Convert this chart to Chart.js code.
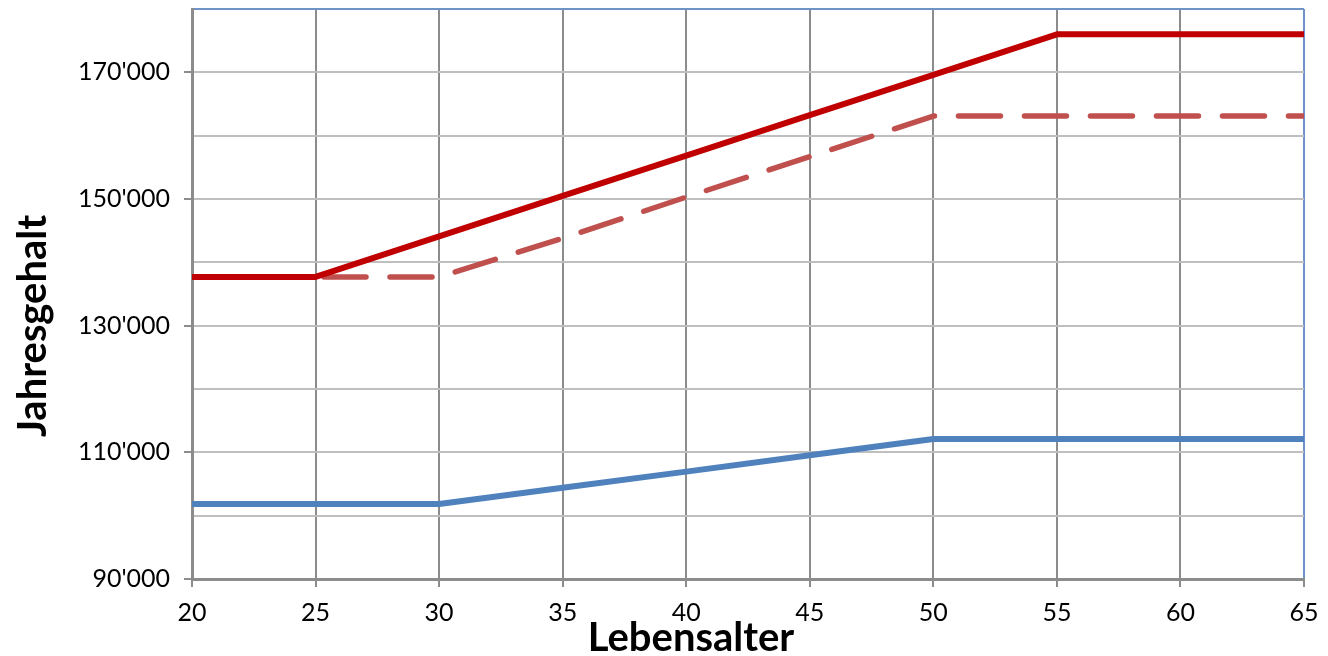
<!DOCTYPE html>
<html>
<head>
<meta charset="utf-8">
<script src="https://cdn.jsdelivr.net/npm/chart.js@4.4.1/dist/chart.umd.min.js"></script>
<style>
  html, body { margin: 0; padding: 0; background: #fff; }
  #wrap { width: 1328px; height: 656px; }
</style>
</head>
<body>
<div id="wrap"><canvas id="chart" width="1328" height="656"></canvas></div>
<script>
// Lebensalter (x) und Jahresgehalt (y)
const ages = [20, 25, 30, 35, 40, 45, 50, 55, 60, 65];
const redSolid = [137700, 137700, 144100, 150500, 156850, 163250, 169600, 176000, 176000, 176000];
const redDashed = [137700, 137700, 137700, 143800, 150300, 156700, 163100, 163100, 163100, 163100];
const blueLine = [101850, 101850, 101850, 104400, 106950, 109550, 112100, 112100, 112100, 112100];
const labeledTicks = [90000, 110000, 130000, 150000, 170000];

const xTitle = 'Lebensalter';
const yTitle = 'Jahresgehalt';

function toPoints(values) {
    return ages.map((a, i) => ({ x: a, y: values[i] }));
}

function fmt(v) {
    return String(v).replace(/\B(?=(\d{3})+(?!\d))/g, "'");
}

// Achsentitel frei platziert (wie im Original nicht mittig)
const titlePlugin = {
    id: 'axisTitles',
    afterDraw(chart) {
        const ctx = chart.ctx;
        ctx.save();
        ctx.fillStyle = '#000';
        ctx.font = 'bold 40px Lato';
        ctx.textAlign = 'center';
        ctx.textBaseline = 'alphabetic';
        ctx.fillText(xTitle, 691, 651);
        ctx.translate(46, 326);
        ctx.rotate(-Math.PI / 2);
        ctx.fillText(yTitle, 0, 0);
        ctx.restore();
    }
};

const lineBase = {
    borderWidth: 6,
    pointRadius: 0,
    tension: 0,
    fill: false,
    borderCapStyle: 'round',
    borderJoinStyle: 'round'
};

new Chart(document.getElementById('chart'), {
    type: 'line',
    data: {
        datasets: [
            { ...lineBase, label: 'rot', data: toPoints(redSolid), borderColor: '#C00000' },
            { ...lineBase, label: 'rot gestrichelt', data: toPoints(redDashed), borderColor: '#C0504D', borderWidth: 5.5, borderDash: [42, 24] },
            { ...lineBase, label: 'blau', data: toPoints(blueLine), borderColor: '#4F81BD' }
        ]
    },
    options: {
        responsive: false,
        animation: false,
        layout: { padding: { top: 9, right: 24, left: 0, bottom: 0 } },
        plugins: {
            legend: { display: false },
            tooltip: { enabled: false }
        },
        scales: {
            x: {
                type: 'linear',
                min: 20,
                max: 65,
                ticks: { stepSize: 5, color: '#000', font: { family: 'Lato', size: 25 }, padding: 11, maxRotation: 0 },
                grid: {
                    color: c => c.tick.value === 65 ? '#6F93C6' : '#8C8C8C',
                    lineWidth: 2,
                    tickLength: 8,
                    tickColor: '#8C8C8C'
                },
                border: { color: '#8C8C8C', width: 3 },
                afterFit: s => { s.height = 77; s.paddingLeft = 0; s.paddingRight = 0; }
            },
            y: {
                min: 90000,
                max: 180000,
                ticks: {
                    stepSize: 10000,
                    color: '#000',
                    font: { family: 'Lato', size: 25 },
                    padding: 14,
                    callback: v => labeledTicks.includes(v) ? fmt(v) : ''
                },
                grid: {
                    color: c => c.tick.value === 180000 ? '#6F93C6' : '#BFBFBF',
                    lineWidth: 2,
                    tickLength: 8,
                    tickColor: c => labeledTicks.includes(c.tick.value) ? '#8C8C8C' : 'rgba(0,0,0,0)'
                },
                border: { color: '#8C8C8C', width: 3 },
                afterFit: s => { s.width = 192; s.paddingTop = 0; s.paddingBottom = 0; }
            }
        }
    },
    plugins: [titlePlugin]
});
</script>
</body>
</html>
